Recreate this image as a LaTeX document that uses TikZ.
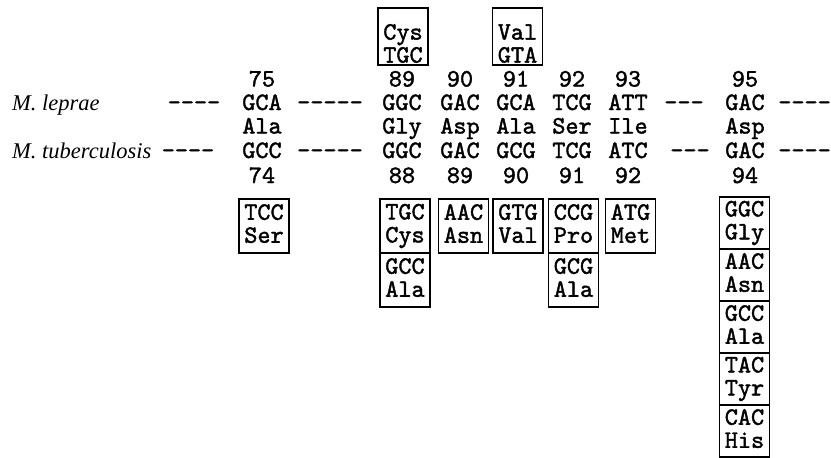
\documentclass[tikz,border=0pt]{standalone}
\usepackage{fontspec}
\setmainfont{Liberation Serif}
\newfontfamily\seqfont{lmmono10-regular}[Extension=.otf, FakeBold=1.6]
\newcommand\codonbx[2]{#1\\#2\rule[-5pt]{0pt}{5pt}}
\newcommand\topbx[2]{\rule{0pt}{29.5pt}#1\\#2}
\begin{document}
\begin{tikzpicture}[x=1pt,y=-1pt,
  seq/.style={font=\seqfont\fontsize{25}{23}\selectfont, inner sep=0pt, anchor=base},
  dashtxt/.style={seq},
  lab/.style={font=\itshape\fontsize{22.5}{24}\selectfont, inner sep=0pt, anchor=base west},
  cbox/.style={draw, line width=1.1pt, minimum width=50pt, minimum height=54pt, inner sep=0pt,
    align=center, font=\seqfont\fontsize{25}{23}\selectfont},
  sbox/.style={cbox, minimum height=52pt},
  tbox/.style={cbox, minimum height=57pt}]
\useasboundingbox (0,0) rectangle (831,458);

% row baselines
\def\rA{86.5}\def\rB{110}\def\rC{133.5}\def\rD{158}\def\rE{183}

% labels
\node[lab] (lep) at (12,\rB) {M. leprae};
\node[lab] (tub) at (12,\rD) {M. tuberculosis};

% dashes
\node[dashtxt] (d1) at (194,\rB) {----};
\node[dashtxt] (d2) at (330,\rB) {-----};
\node[dashtxt] (d3) at (684,\rB) {---};
\node[dashtxt, anchor=base east] (d4) at (831,\rB) {----};
\node[dashtxt] (d5) at (188,\rD) {----};
\node[dashtxt] (d6) at (330,\rD) {-----};
\node[dashtxt] (d7) at (690,\rD) {---};
\node[dashtxt, anchor=base east] (d8) at (831,\rD) {----};

% column 75/74
\node[seq] (n75) at (262,\rA) {75};
\node[seq] (l75) at (262,\rB) {GCA};
\node[seq] (a75) at (262,\rC) {Ala};
\node[seq] (t74) at (262,\rD) {GCC};
\node[seq] (n74) at (262,\rE) {74};

% column 89/88
\node[seq] (n89) at (402,\rA) {89};
\node[seq] (l89) at (402,\rB) {GGC};
\node[seq] (a89) at (402,\rC) {Gly};
\node[seq] (t88) at (402,\rD) {GGC};
\node[seq] (n88) at (402,\rE) {88};

% column 90/89
\node[seq] (n90) at (460,\rA) {90};
\node[seq] (l90) at (460,\rB) {GAC};
\node[seq] (a90) at (460,\rC) {Asp};
\node[seq] (t89) at (460,\rD) {GAC};
\node[seq] (n89b) at (460,\rE) {89};

% column 91/90
\node[seq] (n91) at (516,\rA) {91};
\node[seq] (l91) at (516,\rB) {GCA};
\node[seq] (a91) at (516,\rC) {Ala};
\node[seq] (t90) at (516,\rD) {GCG};
\node[seq] (n90b) at (516,\rE) {90};

% column 92/91
\node[seq] (n92) at (572,\rA) {92};
\node[seq] (l92) at (572,\rB) {TCG};
\node[seq] (a92) at (572,\rC) {Ser};
\node[seq] (t91) at (572,\rD) {TCG};
\node[seq] (n91b) at (572,\rE) {91};

% column 93/92
\node[seq] (n93) at (628,\rA) {93};
\node[seq] (l93) at (628,\rB) {ATT};
\node[seq] (a93) at (628,\rC) {Ile};
\node[seq] (t92) at (628,\rD) {ATC};
\node[seq] (n92b) at (628,\rE) {92};

% column 95/94
\node[seq] (n95) at (745,\rA) {95};
\node[seq] (l95) at (745,\rB) {GAC};
\node[seq] (a95) at (745,\rC) {Asp};
\node[seq] (t94) at (745,\rD) {GAC};
\node[seq] (n94) at (745,\rE) {94};

% top boxes
\node[tbox] (cys) at (403,36.5) {\topbx{Cys}{TGC}};
\node[tbox] (val) at (517.5,36.5) {\topbx{Val}{GTA}};

% bottom boxes
\node[cbox] (tcc) at (264,226) {\codonbx{TCC}{Ser}};
\node[cbox] (tgc) at (405,226) {\codonbx{TGC}{Cys}};
\node[cbox] (gcc) at (405,280) {\codonbx{GCC}{Ala}};
\node[cbox] (aac) at (463.5,226) {\codonbx{AAC}{Asn}};
\node[cbox] (gtg) at (518,226) {\codonbx{GTG}{Val}};
\node[cbox] (ccg) at (573.5,226) {\codonbx{CCG}{Pro}};
\node[cbox] (gcg) at (573.5,280) {\codonbx{GCG}{Ala}};
\node[cbox] (atg) at (630.5,226) {\codonbx{ATG}{Met}};

% stack for 94
\node[sbox] (s1) at (744.5,223) {\codonbx{GGC}{Gly}};
\node[sbox] (s2) at (744.5,275) {\codonbx{AAC}{Asn}};
\node[sbox] (s3) at (744.5,327) {\codonbx{GCC}{Ala}};
\node[sbox] (s4) at (744.5,379) {\codonbx{TAC}{Tyr}};
\node[sbox] (s5) at (744.5,431) {\codonbx{CAC}{His}};
\end{tikzpicture}
\end{document}
